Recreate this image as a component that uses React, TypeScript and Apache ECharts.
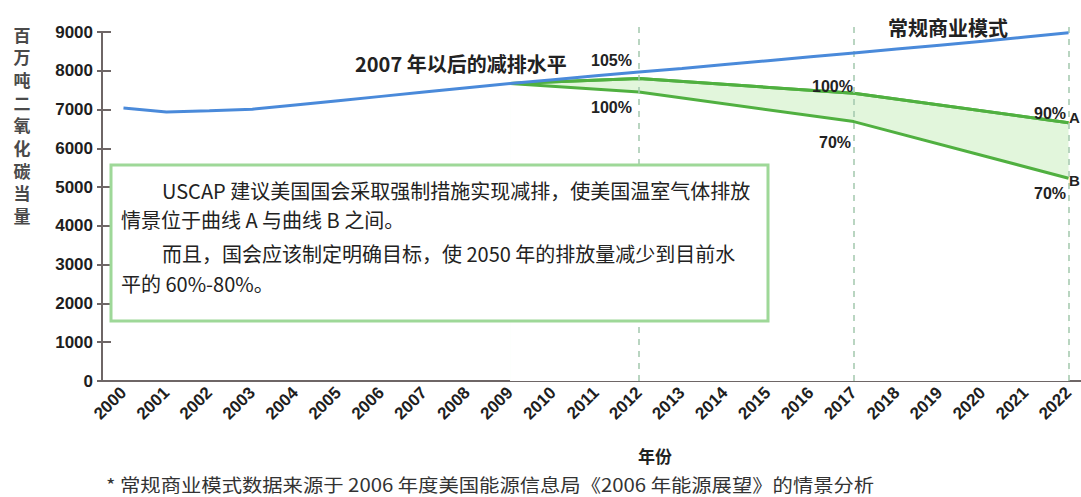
import React, { useEffect, useRef } from "react";
import * as echarts from "echarts";

const years = ["2000","2001","2002","2003","2004","2005","2006","2007","2008","2009","2010","2011","2012","2013","2014","2015","2016","2017","2018","2019","2020","2021","2022"];
const businessAsUsual = [7040,6940,6970,7010,7120,7230,7340,7450,7560,7670,7770,7870,7970,8060,8160,8260,8360,8460,8560,8660,8760,8870,8980];
const curveA = [null,null,null,null,null,null,null,null,null,7670,null,null,7800,null,null,null,null,7420,null,null,null,null,6660];
const curveB = [null,null,null,null,null,null,null,null,null,7670,null,null,7450,null,null,null,null,6690,null,null,null,null,5230];
const markYears = ["2012","2017","2022"];
const yTicks = { min: 0, max: 9000, interval: 1000 };
const yName = "百万吨二氧化碳当量";

const AXIS = "#6e6666";
const GREEN = "#50b040";
const BLUE = "#4a8ada";
const CJK = '"Noto Sans CJK SC", "Liberation Sans", sans-serif';
const LAT = '"Liberation Sans", Arial, sans-serif';

function txt(text: string, x: number, y: number, size: number, weight: string, align = "left", family = CJK, color = "#222", scaleX = 1) {
  return {
    type: "text",
    z: 100,
    x, y, scaleX,
    style: {
      text, x: 0, y: 0,
      fill: color,
      font: `${weight} ${size}px ${family}`,
      align, textAlign: align,
      verticalAlign: "middle", textVerticalAlign: "middle",
    },
  };
}

export default function App() {
  const ref = useRef<HTMLDivElement>(null);
  useEffect(() => {
    if (!ref.current) return;
    const chart = echarts.init(ref.current, null, { renderer: "svg" });
    const option: any = {
      animation: false,
      backgroundColor: "#ffffff",
      grid: [
        { left: 102, right: 0, top: 32, bottom: 116 },
        { left: 102, right: 0, top: 22, bottom: 116 },
      ],
      xAxis: [
        {
          type: "category", data: years, gridIndex: 0, boundaryGap: true,
          axisLine: { lineStyle: { color: AXIS, width: 2 } },
          axisTick: { inside: true, length: 8, lineStyle: { color: AXIS, width: 2 } },
          axisLabel: { rotate: 45, margin: 9, color: "#1e1e1e", fontWeight: "bold", fontSize: 17, fontFamily: LAT },
        },
        { type: "category", data: years, gridIndex: 1, boundaryGap: true, show: false },
      ],
      yAxis: [
        {
          type: "value", gridIndex: 0, ...yTicks,
          axisLine: { show: true, lineStyle: { color: AXIS, width: 2 } },
          axisTick: { show: true, length: 5, lineStyle: { color: AXIS, width: 2 } },
          splitLine: { show: false },
          axisLabel: { margin: 9, color: "#1e1e1e", fontWeight: "bold", fontSize: 17, fontFamily: LAT, formatter: (v: number) => String(v) },
        },
        {
          type: "value", gridIndex: 0, ...yTicks, position: "left",
          axisLine: { show: false },
          axisTick: { show: true, inside: true, length: 9, lineStyle: { color: AXIS, width: 2 } },
          axisLabel: { show: false },
          splitLine: { show: false },
        },
        { type: "value", gridIndex: 1, min: 0, max: 1, show: false },
      ],
      series: [
        {
          type: "line", name: "A", data: curveA, connectNulls: true, showSymbol: false, symbol: "none",
          lineStyle: { color: GREEN, width: 3 }, areaStyle: { color: "#e2f6dc", opacity: 1 }, z: 2,
        },
        {
          type: "line", name: "B", data: curveB, connectNulls: true, showSymbol: false, symbol: "none",
          lineStyle: { color: GREEN, width: 3 }, areaStyle: { color: "#ffffff", opacity: 1 }, z: 3,
        },
        {
          type: "line", name: "A-line", data: curveA, connectNulls: true, showSymbol: false, symbol: "none",
          lineStyle: { color: GREEN, width: 3 }, z: 4,
        },
        {
          type: "line", name: "BAU", data: businessAsUsual, showSymbol: false, symbol: "none",
          lineStyle: { color: BLUE, width: 3 }, z: 5,
        },
        {
          type: "line", name: "marks", xAxisIndex: 1, yAxisIndex: 2, data: years.map(() => null), z: 6,
          markLine: {
            silent: true, symbol: "none", label: { show: false },
            lineStyle: { color: "#a3c7ad", width: 1.5, type: [6, 6] },
            data: markYears.map((y) => ({ xAxis: y })),
          },
        },
      ],
      graphic: [
        {
          type: "rect", z: 90,
          shape: { x: 111, y: 165, width: 657, height: 156 },
          style: { fill: "#ffffff", stroke: "#9ed898", lineWidth: 3 },
        },
        txt("USCAP 建议美国国会采取强制措施实现减排，使美国温室气体排放", 162, 190, 20, "normal"),
        txt("情景位于曲线 A 与曲线 B 之间。", 121, 219, 20, "normal"),
        txt("而且，国会应该制定明确目标，使 2050 年的排放量减少到目前水", 162, 253, 20, "normal"),
        txt("平的 60%-80%。", 121, 283, 20, "normal"),
        ...yName.split("").map((ch, i) => txt(ch, 22, 34 + i * 22.7, 17, "bold", "center", CJK, "#4a4a4a")),
        txt("2007 年以后的减排水平", 355, 63, 20, "bold"),
        txt("105%", 591, 60, 16, "bold", "left", LAT),
        txt("100%", 591, 107, 16, "bold", "left", LAT),
        txt("100%", 812, 86, 16, "bold", "left", LAT),
        txt("70%", 819, 142, 16, "bold", "left", LAT),
        txt("90%", 1034, 113, 16, "bold", "left", LAT),
        txt("A", 1069, 117, 15, "bold", "left", LAT),
        txt("B", 1069, 180, 15, "bold", "left", LAT),
        txt("70%", 1034, 193, 16, "bold", "left", LAT),
        txt("常规商业模式", 888, 27, 20, "bold"),
        txt("年份", 655, 455, 17, "bold", "center"),
        txt("* 常规商业模式数据来源于 2006 年度美国能源信息局《2006 年能源展望》的情景分析", 106, 485, 18, "normal", "left", CJK, "#333", 1.13),
      ],
    };
    chart.setOption(option);
    return () => chart.dispose();
  }, []);
  return (
    <div style={{ position: "absolute", left: 0, top: 0, width: 1081, height: 497, overflow: "hidden" }}>
      <div ref={ref} style={{ width: 1090, height: 497 }} />
    </div>
  );
}
